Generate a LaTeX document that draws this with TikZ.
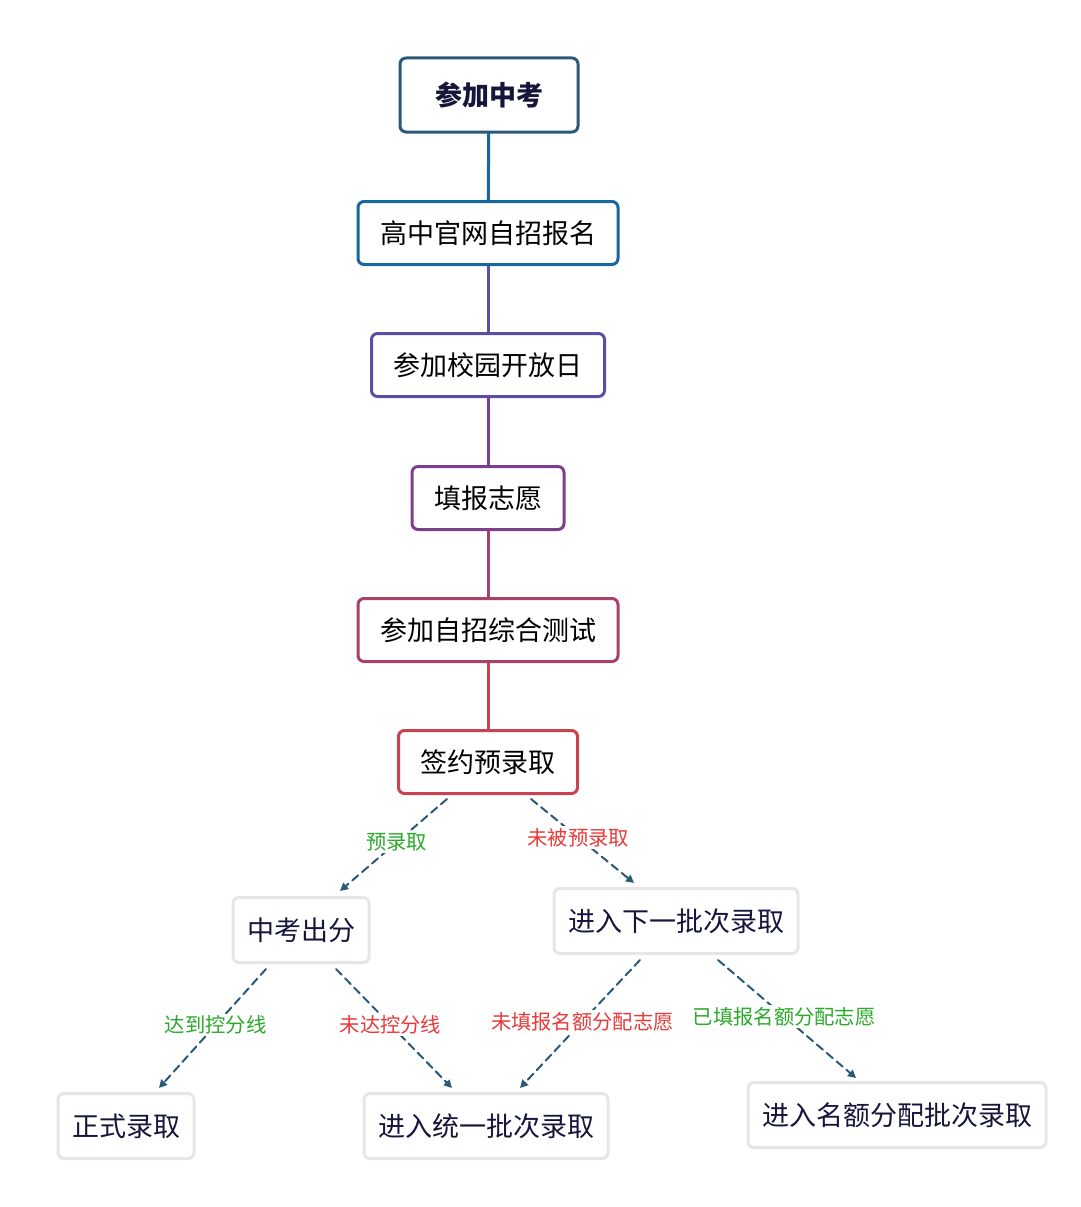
\documentclass[tikz,border=0pt]{standalone}
\usepackage{fontspec}
\setmainfont{Noto Sans CJK SC}
\usetikzlibrary{arrows,arrows.meta}
\definecolor{cTop}{HTML}{2B5A78}
\definecolor{cBlue}{HTML}{1766A0}
\definecolor{cViolet}{HTML}{5B4FA3}
\definecolor{cPlum}{HTML}{7D3F8C}
\definecolor{cRose}{HTML}{A8406A}
\definecolor{cRed}{HTML}{C8434F}
\definecolor{cGrayBox}{HTML}{E6E6E8}
\definecolor{cNavy}{HTML}{16163C}
\definecolor{cFlow}{HTML}{2B5A78}
\definecolor{okGreen}{HTML}{2AAA2A}
\definecolor{noRed}{HTML}{E83A3A}

\begin{document}
\begin{tikzpicture}[line cap=round,line join=round,x=1pt,y=-1pt,
    stepbox/.style={draw,line width=3pt,rounded corners=6pt,fill=white,
        font=\fontsize{27}{30}\selectfont,inner xsep=22pt,minimum height=63pt},
    resbox/.style={draw=cGrayBox,line width=3pt,rounded corners=6pt,fill=white,
        text=cNavy,font=\fontsize{27}{30}\selectfont,inner xsep=14pt,minimum height=65pt},
    link/.style={line width=3pt},
    flow/.style={draw=cFlow,line width=2pt,dash pattern=on 8pt off 5pt,
        -{Triangle[length=8pt,width=8pt]}},
    lab/.style={fill=white,inner sep=2pt,font=\fontsize{20.3}{22}\selectfont}]
    \useasboundingbox (0,0) rectangle (1080,1207);
    % main chain
    \node[stepbox,draw=cTop,text=cNavy,minimum width=178pt,minimum height=74pt,
        font=\fontsize{27}{30}\selectfont\bfseries] (exam) at (489,95) {参加中考};
    \node[stepbox,draw=cBlue] (apply) at (488,233) {高中官网自招报名};
    \node[stepbox,draw=cViolet] (openday) at (488,365) {参加校园开放日};
    \node[stepbox,draw=cPlum] (wish) at (488,498) {填报志愿};
    \node[stepbox,draw=cRose] (test) at (488,630) {参加自招综合测试};
    \node[stepbox,draw=cRed] (sign) at (488,762) {签约预录取};
    \draw[link,cBlue] (exam) -- (apply);
    \draw[link,cViolet] (apply) -- (openday);
    \draw[link,cPlum] (openday) -- (wish);
    \draw[link,cRose] (wish) -- (test);
    \draw[link,cRed] (test) -- (sign);
    % results
    \node[resbox] (score) at (301,930) {中考出分};
    \node[resbox] (nextb) at (676,921) {进入下一批次录取};
    \node[resbox] (formal) at (126,1126) {正式录取};
    \node[resbox] (unified) at (486,1126) {进入统一批次录取};
    \node[resbox] (quota) at (897,1115) {进入名额分配批次录取};
    \draw[flow] ([xshift=-41pt,yshift=-4pt]sign.south) -- node[lab,text=okGreen,pos=0.47] {预录取}
        ([xshift=39pt,yshift=5pt]score.north);
    \draw[flow] ([xshift=43pt,yshift=-4pt]sign.south) -- node[lab,text=noRed,pos=0.46] {未被预录取}
        ([xshift=-42pt,yshift=4pt]nextb.north);
    \draw[flow] ([xshift=-35pt,yshift=-5pt]score.south) -- node[lab,text=okGreen,pos=0.47] {达到控分线}
        ([xshift=33pt,yshift=4pt]formal.north);
    \draw[flow] ([xshift=35pt,yshift=-5pt]score.south) -- node[lab,text=noRed,pos=0.47] {未达控分线}
        ([xshift=-34pt,yshift=4pt]unified.north);
    \draw[flow] ([xshift=-36pt,yshift=-5pt]nextb.south) -- node[lab,text=noRed,pos=0.48] {未填报名额分配志愿}
        ([xshift=34pt,yshift=4pt]unified.north);
    \draw[flow] ([xshift=42pt,yshift=-5pt]nextb.south) -- node[lab,text=okGreen,pos=0.48] {已填报名额分配志愿}
        ([xshift=-41pt,yshift=3pt]quota.north);
\end{tikzpicture}
\end{document}
